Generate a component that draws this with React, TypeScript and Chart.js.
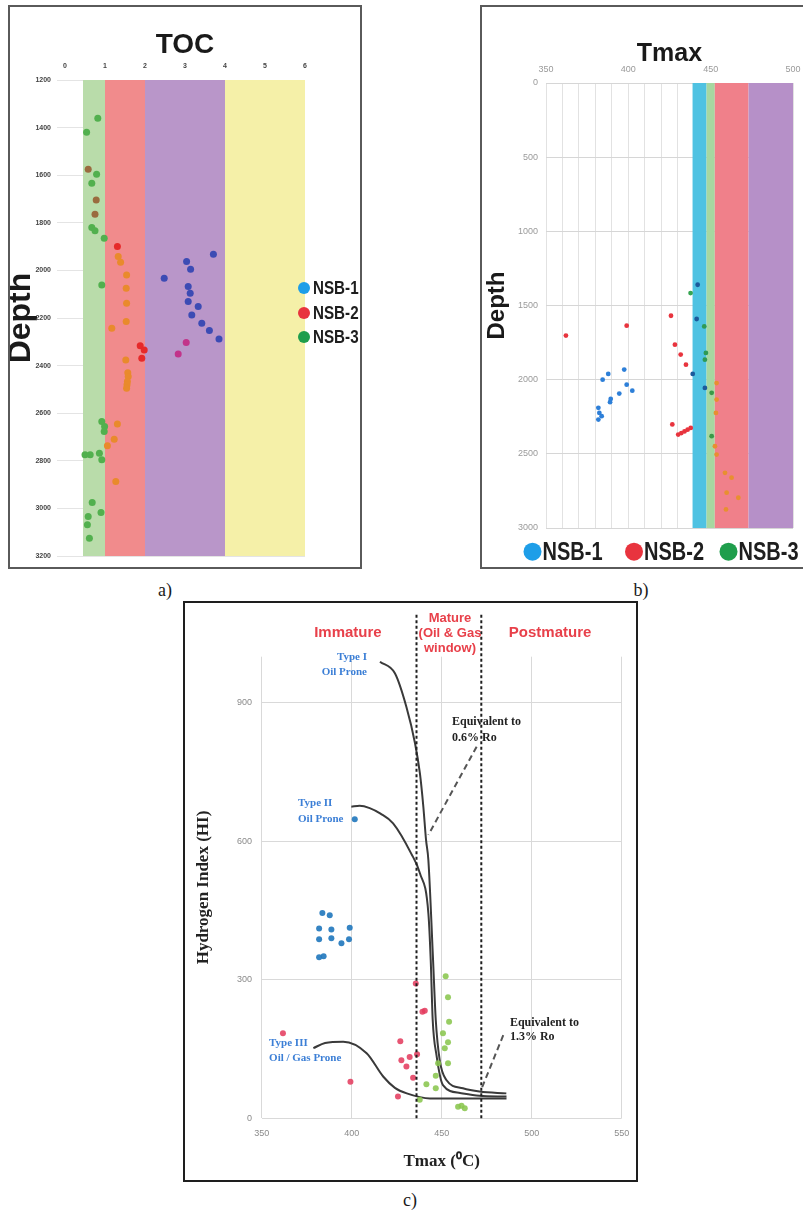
import React, { useEffect, useRef } from "react";
import { Chart, registerables } from "chart.js";

Chart.register(...registerables);

const SANS = "'Liberation Sans', Arial, sans-serif";
const SERIF = "'Liberation Serif', 'Times New Roman', serif";
Chart.defaults.font.family = SANS;

const SERIES = ["NSB-1", "NSB-2", "NSB-3"];
const LEGEND_COLORS = ["#1e9ee8", "#e8343e", "#1f9e4c"];

// ---------- a) TOC (wt%) against depth (m) ----------
const TOC_NSB1 = [3.71, 3.04, 3.14, 2.48, 3.08, 3.13, 3.08, 3.33, 3.17, 3.42, 3.61, 3.85];
const TOC_DEPTH_NSB1 = [1932, 1963, 1995, 2033, 2068, 2096, 2131, 2152, 2187, 2222, 2253, 2288];
const TOC_NSB2 = [1.31, 1.88, 1.98, 1.92, 3.03, 2.83, 0.58, 0.78, 0.75];
const TOC_DEPTH_NSB2 = [1900, 2317, 2334, 2369, 2303, 2351, 1575, 1704, 1764];
const TOC_NSB3 = [
  0.82, 0.54, 0.79, 0.67, 0.67, 0.75, 0.98, 0.92, 0.92, 0.99, 0.98, 0.5, 0.63, 0.86, 0.92, 0.68, 0.9, 0.58, 0.56, 0.61,
  1.33, 1.39, 1.54, 1.53, 1.54, 1.53, 1.17, 1.52, 1.57, 1.58, 1.56, 1.55, 1.54, 1.31, 1.23, 1.06, 1.27,
];
const TOC_DEPTH_NSB3 = [
  1361, 1420, 1596, 1634, 1820, 1833, 1865, 2061, 2635, 2656, 2677, 2775, 2775, 2768, 2796, 2975, 3017, 3034, 3069, 3125,
  1942, 1966, 2019, 2075, 2138, 2215, 2243, 2376, 2430, 2446, 2467, 2480, 2495, 2645, 2709, 2737, 2887,
];
// TOC classes: poor / fair / good-very good / excellent
const TOC_BAND_EDGES = [0.45, 1, 2, 4, 6];
const TOC_BAND_COLORS = ["#b9dcaa", "#f18b8c", "#b996c9", "#f5f0a8"];
// point colour per series: [outside, band 1, band 2, band 3, band 4]
const TOC_TINTS = [
  ["#3c4bb4", "#3c4bb4", "#3c4bb4", "#3c4bb4", "#3c4bb4"],
  ["#e62a2a", "#9a6b3f", "#e62a2a", "#c2338a", "#e62a2a"],
  ["#52b04e", "#52b04e", "#e98a2c", "#52b04e", "#52b04e"],
];

// ---------- b) Tmax (°C) against depth (m) ----------
const TMAX_NSB1 = [384.4, 387.8, 397.5, 399, 402.4, 394.5, 389.3, 388.9, 381.8, 382.4, 381.8, 383.8, 442.1, 441.5, 446.5, 439.1];
const TMAX_DEPTH_NSB1 = [2000, 1961, 1932, 2034, 2074, 2094, 2130, 2152, 2190, 2224, 2269, 2246, 1360, 1591, 2056, 1961];
const TMAX_NSB2 = [362.1, 399, 425.9, 428.3, 431.8, 435, 426.7, 430.3, 432.2, 434.1, 436, 437.9];
const TMAX_DEPTH_NSB2 = [1703, 1636, 1569, 1764, 1831, 1899, 2302, 2370, 2360, 2349, 2337, 2325];
const TMAX_NSB3 = [437.8, 446.1, 447.1, 446.5, 450.6, 450.6, 453.6, 453.6, 453.2, 452.6, 453.6, 458.7, 462.7, 459.7, 466.8, 459.3];
const TMAX_DEPTH_NSB3 = [1416, 1641, 1820, 1865, 2089, 2381, 2023, 2134, 2224, 2449, 2505, 2628, 2661, 2762, 2796, 2875];
const TMAX_BAND_EDGES = [439, 447.5, 452.5, 473, 500];
const TMAX_BAND_COLORS = ["#4fc2e2", "#a7d7a0", "#f0808a", "#b690c8"];
const TMAX_TINTS = [
  ["#2d7fd8", "#1c5a9c", "#2d7fd8", "#2d7fd8", "#2d7fd8"],
  ["#e8343e", "#b03050", "#e8343e", "#e8343e", "#e8343e"],
  ["#37a652", "#2f9a55", "#3a9a48", "#e88f30", "#37a652"],
];

// ---------- c) HI (mg HC/g TOC) against Tmax (°C) ----------
const HI_TMAX_NSB1 = [383.7, 387.8, 381.9, 388.7, 398.9, 381.9, 388.7, 394.3, 398.5, 381.9, 384.4, 401.7];
const HI_NSB1 = [445, 440, 411, 409, 413, 388, 390, 379, 388, 349, 351, 648];
const HI_TMAX_NSB2 = [361.8, 399.3, 427, 427.6, 432.2, 430.4, 436.3, 434.1, 425.7, 435.6, 439.3, 440.6];
const HI_NSB2 = [184, 79, 167, 126, 133, 112, 139, 88, 47, 292, 231, 233];
const HI_TMAX_NSB3 = [452.2, 453.5, 454.1, 450.7, 453.5, 451.7, 448, 453.5, 446.7, 441.5, 446.7, 437.8, 459.1, 462.8, 461];
const HI_NSB3 = [308, 262, 209, 184, 165, 152, 119, 119, 92, 74, 65, 40, 25, 22, 27];
const HI_COLORS = ["rgba(36,122,190,0.92)", "rgba(228,62,96,0.88)", "rgba(138,198,78,0.88)"];

// kerogen type evolution paths
const TYPE1_TMAX = [415.7, 424, 430.4, 435.2, 437.9, 439.8, 441.3, 442.6, 445.2, 446.7, 448.9, 452.6, 461.8, 471, 485.9];
const TYPE1_HI = [989, 964, 891, 812, 747, 675, 603, 559, 343, 213, 126, 83, 65, 58, 54];
const TYPE2_TMAX = [399.8, 404.4, 410, 416, 423, 433, 437.9, 442.6, 443.9, 445, 447.1, 450.7, 460.2, 471, 486];
const TYPE2_HI = [675, 677, 672, 660, 639, 574, 531, 444, 343, 213, 137, 72, 55, 49, 47];
const TYPE3_TMAX = [378.7, 385.2, 395.3, 408.3, 417.6, 424, 430.6, 443.5, 486];
const TYPE3_HI = [152, 163, 166, 141, 90, 66, 54, 43, 43];

// oil window limits and vitrinite-reflectance pointers
const MATURITY_TMAX = [436, 472];
const RO_LEADERS = [
  [469.4, 805, 442.6, 614],
  [484.2, 180, 472.2, 65],
];

const MAT_RED = "#e8404a";
const TYPE_BLUE = "#3c7fd6";
const HI_NOTES = [
  { text: "Immature", t: 397.9, hi: 1051, color: MAT_RED, font: `bold 15px ${SANS}`, align: "center" },
  { text: "Mature", t: 454.6, hi: 1083, color: MAT_RED, font: `bold 13px ${SANS}`, align: "center" },
  { text: "(Oil & Gas", t: 454.6, hi: 1051, color: MAT_RED, font: `bold 13px ${SANS}`, align: "center" },
  { text: "window)", t: 454.6, hi: 1017, color: MAT_RED, font: `bold 13px ${SANS}`, align: "center" },
  { text: "Postmature", t: 510.2, hi: 1051, color: MAT_RED, font: `bold 15px ${SANS}`, align: "center" },
  { text: "Type I", t: 408.5, hi: 999, color: TYPE_BLUE, font: `bold 11px ${SERIF}`, align: "right" },
  { text: "Oil Prone", t: 408.5, hi: 967, color: TYPE_BLUE, font: `bold 11px ${SERIF}`, align: "right" },
  { text: "Type II", t: 370.2, hi: 683, color: TYPE_BLUE, font: `bold 11px ${SERIF}`, align: "left" },
  { text: "Oil Prone", t: 370.2, hi: 649, color: TYPE_BLUE, font: `bold 11px ${SERIF}`, align: "left" },
  { text: "Type III", t: 354.1, hi: 163, color: TYPE_BLUE, font: `bold 11px ${SERIF}`, align: "left" },
  { text: "Oil / Gas Prone", t: 354.1, hi: 131, color: TYPE_BLUE, font: `bold 11px ${SERIF}`, align: "left" },
  { text: "Equivalent to", t: 455.7, hi: 858, color: "#222", font: `bold 12px ${SERIF}`, align: "left" },
  { text: "0.6% Ro", t: 455.7, hi: 824, color: "#222", font: `bold 12px ${SERIF}`, align: "left" },
  { text: "Equivalent to", t: 487.9, hi: 207, color: "#222", font: `bold 12px ${SERIF}`, align: "left" },
  { text: "1.3% Ro", t: 487.9, hi: 177, color: "#222", font: `bold 12px ${SERIF}`, align: "left" },
];

// ---------- helpers ----------
const pts = (xs: number[], ys: number[]) => xs.map((x, i) => ({ x, y: ys[i] }));

const bandIndex = (edges: number[], v: number | undefined) => {
  if (v == null) return -1;
  for (let i = 0; i < edges.length - 1; i++) if (v >= edges[i] && v < edges[i + 1]) return i;
  return -1;
};

// fixed axis box sizes, without the extra room Chart.js keeps for edge labels
const noEdgePadding = (s: any) => {
  s.paddingLeft = 0;
  s.paddingRight = 0;
  s.paddingTop = 0;
  s.paddingBottom = 0;
};
const fixWidth = (w: number) => (s: any) => {
  s.width = w;
  noEdgePadding(s);
};
const fixHeight = (h: number) => (s: any) => {
  s.height = h;
  noEdgePadding(s);
};
const plainTick = (v: any) => String(v);

const bandsPlugin = (edges: number[], colors: string[]) => ({
  id: "bands",
  beforeDatasetsDraw(chart: any) {
    const { ctx, chartArea: a } = chart;
    const x = chart.scales.x;
    ctx.save();
    colors.forEach((c, i) => {
      const x0 = x.getPixelForValue(edges[i]);
      const x1 = x.getPixelForValue(edges[i + 1]);
      ctx.fillStyle = c;
      ctx.fillRect(x0, a.top, x1 - x0, a.bottom - a.top);
    });
    ctx.restore();
  },
});

// circle + condensed bold label for each series
const seriesLegend = (spots: { x: number; y: number }[], radius: number, size: number, gap: number) => ({
  id: "seriesLegend",
  afterDraw(chart: any) {
    const ctx = chart.ctx;
    chart.data.datasets.forEach((ds: any, i: number) => {
      const p = spots[i];
      if (!p) return;
      ctx.save();
      ctx.fillStyle = LEGEND_COLORS[i];
      ctx.beginPath();
      ctx.arc(p.x, p.y, radius, 0, Math.PI * 2);
      ctx.fill();
      ctx.fillStyle = "#1e1e1e";
      ctx.font = `bold ${size}px ${SANS}`;
      ctx.textAlign = "left";
      ctx.textBaseline = "middle";
      ctx.translate(p.x + radius + gap, p.y + 1);
      ctx.scale(0.8, 1);
      ctx.fillText(ds.label, 0, 0);
      ctx.restore();
    });
  },
});

const baseOptions = {
  responsive: false,
  animation: false as const,
  events: [] as any[],
};

// ---------- chart configs ----------
function tocConfig(): any {
  const xs = [TOC_NSB1, TOC_NSB2, TOC_NSB3];
  const ys = [TOC_DEPTH_NSB1, TOC_DEPTH_NSB2, TOC_DEPTH_NSB3];
  return {
    type: "scatter",
    data: {
      datasets: SERIES.map((label, s) => ({
        label,
        data: pts(xs[s], ys[s]),
        pointRadius: 3.5,
        pointBorderWidth: 0,
        pointBackgroundColor: (c: any) => TOC_TINTS[s][bandIndex(TOC_BAND_EDGES, c.raw?.x) + 1],
      })),
    },
    options: {
      ...baseOptions,
      layout: { padding: { left: 0, right: 55, top: 0, bottom: 11 } },
      plugins: {
        legend: { display: false },
        tooltip: { enabled: false },
        title: {
          display: true,
          text: "TOC",
          fullSize: false,
          color: "#1a1a1a",
          font: { size: 28, weight: "bold", lineHeight: 0.8 },
          padding: { top: 27, bottom: 0 },
        },
      },
      scales: {
        x: {
          type: "linear",
          position: "top",
          min: 0,
          max: 6,
          afterFit: fixHeight(23.6),
          grid: { display: false, drawTicks: false },
          border: { display: false },
          ticks: { stepSize: 1, padding: 9.8, color: "#444", font: { size: 7, weight: "bold" }, callback: plainTick },
        },
        y: {
          type: "linear",
          reverse: true,
          min: 1200,
          max: 3200,
          afterFit: fixWidth(55),
          grid: { color: "#e4e4e4", tickLength: 8 },
          border: { display: false },
          ticks: { stepSize: 200, padding: 6, color: "#444", font: { size: 7, weight: "bold" }, callback: plainTick },
          title: {
            display: true,
            text: "Depth",
            color: "#1a1a1a",
            padding: 0,
            font: { size: 32, weight: "bold", lineHeight: 0.7 },
          },
        },
      },
    },
    plugins: [
      bandsPlugin(TOC_BAND_EDGES, TOC_BAND_COLORS),
      seriesLegend(
        [
          { x: 294, y: 281 },
          { x: 294, y: 306 },
          { x: 294, y: 330 },
        ],
        6,
        19,
        3
      ),
    ],
  };
}

function tmaxConfig(): any {
  const xs = [TMAX_NSB1, TMAX_NSB2, TMAX_NSB3];
  const ys = [TMAX_DEPTH_NSB1, TMAX_DEPTH_NSB2, TMAX_DEPTH_NSB3];
  return {
    type: "scatter",
    data: {
      datasets: SERIES.map((label, s) => ({
        label,
        data: pts(xs[s], ys[s]),
        pointRadius: 2.4,
        pointBorderWidth: 0,
        pointBackgroundColor: (c: any) => TMAX_TINTS[s][bandIndex(TMAX_BAND_EDGES, c.raw?.x) + 1],
      })),
    },
    options: {
      ...baseOptions,
      layout: { padding: { left: 0, right: 10, top: 0, bottom: 39 } },
      plugins: {
        legend: { display: false },
        tooltip: { enabled: false },
        title: {
          display: true,
          text: "Tmax",
          fullSize: false,
          color: "#1a1a1a",
          font: { size: 25, weight: "bold", lineHeight: 0.8 },
          padding: { top: 37, bottom: 0 },
        },
      },
      scales: {
        x: {
          type: "linear",
          position: "top",
          min: 350,
          max: 500,
          afterFit: fixHeight(19),
          grid: { color: "#e2e2e2", drawTicks: false },
          border: { display: false },
          ticks: {
            stepSize: 10,
            padding: 7.6,
            color: "#9a9a9a",
            font: { size: 9 },
            autoSkip: false,
            maxRotation: 0,
            callback: (v: any) => (Number(v) % 50 === 0 ? String(v) : ""),
          },
        },
        y: {
          type: "linear",
          reverse: true,
          min: 0,
          max: 3000,
          afterFit: fixWidth(64),
          grid: { color: "#d6d6d6", drawTicks: false },
          border: { display: false },
          ticks: { stepSize: 500, padding: 8, color: "#9a9a9a", font: { size: 9 }, callback: plainTick },
          title: {
            display: true,
            text: "Depth",
            color: "#1a1a1a",
            padding: 0,
            font: { size: 24, weight: "bold", lineHeight: 1.25 },
          },
        },
      },
    },
    plugins: [
      bandsPlugin(TMAX_BAND_EDGES, TMAX_BAND_COLORS),
      seriesLegend(
        [
          { x: 50.5, y: 544.7 },
          { x: 152, y: 544.7 },
          { x: 246.5, y: 544.7 },
        ],
        9,
        25,
        1
      ),
    ],
  };
}

function hiConfig(): any {
  const xs = [HI_TMAX_NSB1, HI_TMAX_NSB2, HI_TMAX_NSB3];
  const ys = [HI_NSB1, HI_NSB2, HI_NSB3];
  const curve = (label: string, t: number[], hi: number[]) => ({
    label,
    data: pts(t, hi),
    showLine: true,
    borderColor: "#3a3a3a",
    borderWidth: 2,
    pointRadius: 0,
    cubicInterpolationMode: "monotone",
    fill: false,
  });
  const overlay = {
    id: "hiOverlay",
    afterDatasetsDraw(chart: any) {
      const { ctx } = chart;
      const x = chart.scales.x;
      const y = chart.scales.y;
      ctx.save();
      // oil window limits
      ctx.strokeStyle = "#1f1f1f";
      ctx.lineWidth = 2;
      ctx.setLineDash([3, 2.5]);
      MATURITY_TMAX.forEach((t) => {
        const px = x.getPixelForValue(t);
        ctx.beginPath();
        ctx.moveTo(px, y.getPixelForValue(0));
        ctx.lineTo(px, y.getPixelForValue(1095));
        ctx.stroke();
      });
      // Ro pointers
      ctx.strokeStyle = "#555";
      ctx.lineWidth = 2;
      ctx.setLineDash([6, 4]);
      RO_LEADERS.forEach(([t0, h0, t1, h1]) => {
        ctx.beginPath();
        ctx.moveTo(x.getPixelForValue(t0), y.getPixelForValue(h0));
        ctx.lineTo(x.getPixelForValue(t1), y.getPixelForValue(h1));
        ctx.stroke();
      });
      ctx.setLineDash([]);
      ctx.textBaseline = "middle";
      HI_NOTES.forEach((n) => {
        ctx.font = n.font;
        ctx.fillStyle = n.color;
        ctx.textAlign = n.align;
        ctx.fillText(n.text, x.getPixelForValue(n.t), y.getPixelForValue(n.hi));
      });
      ctx.restore();
    },
  };
  return {
    type: "scatter",
    data: {
      datasets: [
        ...SERIES.map((label, s) => ({
          label,
          data: pts(xs[s], ys[s]),
          pointRadius: 3,
          pointBorderWidth: 0,
          pointBackgroundColor: HI_COLORS[s],
        })),
        curve("Type I", TYPE1_TMAX, TYPE1_HI),
        curve("Type II", TYPE2_TMAX, TYPE2_HI),
        curve("Type III", TYPE3_TMAX, TYPE3_HI),
      ],
    },
    options: {
      ...baseOptions,
      layout: { padding: { left: 0, right: 14.3, top: 53.7, bottom: 0 } },
      plugins: { legend: { display: false }, tooltip: { enabled: false } },
      scales: {
        x: {
          type: "linear",
          min: 350,
          max: 550,
          afterFit: fixHeight(61.7),
          grid: { color: "#d9d9d9", drawTicks: false },
          border: { display: false },
          ticks: { stepSize: 50, padding: 9.6, color: "#8a8a8a", font: { size: 9 }, callback: plainTick },
          title: {
            display: true,
            text: "Tmax (⁰C)",
            color: "#222",
            padding: { top: 0, bottom: 8.1 },
            font: { size: 17, weight: "bold", family: SERIF },
          },
        },
        y: {
          type: "linear",
          min: 0,
          max: 1000,
          afterFit: fixWidth(76.7),
          grid: { color: "#d9d9d9", drawTicks: false },
          border: { display: false },
          ticks: { stepSize: 300, includeBounds: false, padding: 9.7, color: "#8a8a8a", font: { size: 9 }, callback: plainTick },
          title: {
            display: true,
            text: "Hydrogen Index (HI)",
            color: "#222",
            padding: { top: 8.3, bottom: 0 },
            font: { size: 17, weight: "bold", family: SERIF },
          },
        },
      },
    },
    plugins: [overlay],
  };
}

function ChartCanvas({ width, height, config }: { width: number; height: number; config: () => any }) {
  const ref = useRef<HTMLCanvasElement>(null);
  useEffect(() => {
    const chart = new Chart(ref.current as HTMLCanvasElement, config());
    return () => chart.destroy();
  }, []);
  return <canvas ref={ref} width={width} height={height} style={{ display: "block", width, height }} />;
}

const panelLabel = (left: number, top: number): React.CSSProperties => ({
  position: "absolute",
  left,
  top,
  transform: "translate(-50%, -50%)",
  font: `18px ${SERIF}`,
  color: "#1a1a1a",
});

export default function App() {
  return (
    <div
      style={{
        position: "fixed",
        left: 0,
        top: 0,
        width: 803,
        height: 1211,
        overflow: "hidden",
        background: "#fff",
      }}
    >
      <div
        style={{
          position: "absolute",
          left: 8,
          top: 5,
          width: 354,
          height: 564,
          border: "2px solid #5a5a5a",
          boxSizing: "border-box",
        }}
      >
        <ChartCanvas width={350} height={560} config={tocConfig} />
      </div>
      <div
        style={{
          position: "absolute",
          left: 480,
          top: 5,
          width: 330,
          height: 564,
          border: "2px solid #5a5a5a",
          boxSizing: "border-box",
        }}
      >
        <ChartCanvas width={321} height={560} config={tmaxConfig} />
      </div>
      <div
        style={{
          position: "absolute",
          left: 183,
          top: 601,
          width: 455,
          height: 581,
          border: "2px solid #1e1e1e",
          boxSizing: "border-box",
        }}
      >
        <ChartCanvas width={451} height={577} config={hiConfig} />
      </div>
      <div style={panelLabel(165, 590)}>a)</div>
      <div style={panelLabel(641, 590)}>b)</div>
      <div style={panelLabel(410, 1200)}>c)</div>
    </div>
  );
}
